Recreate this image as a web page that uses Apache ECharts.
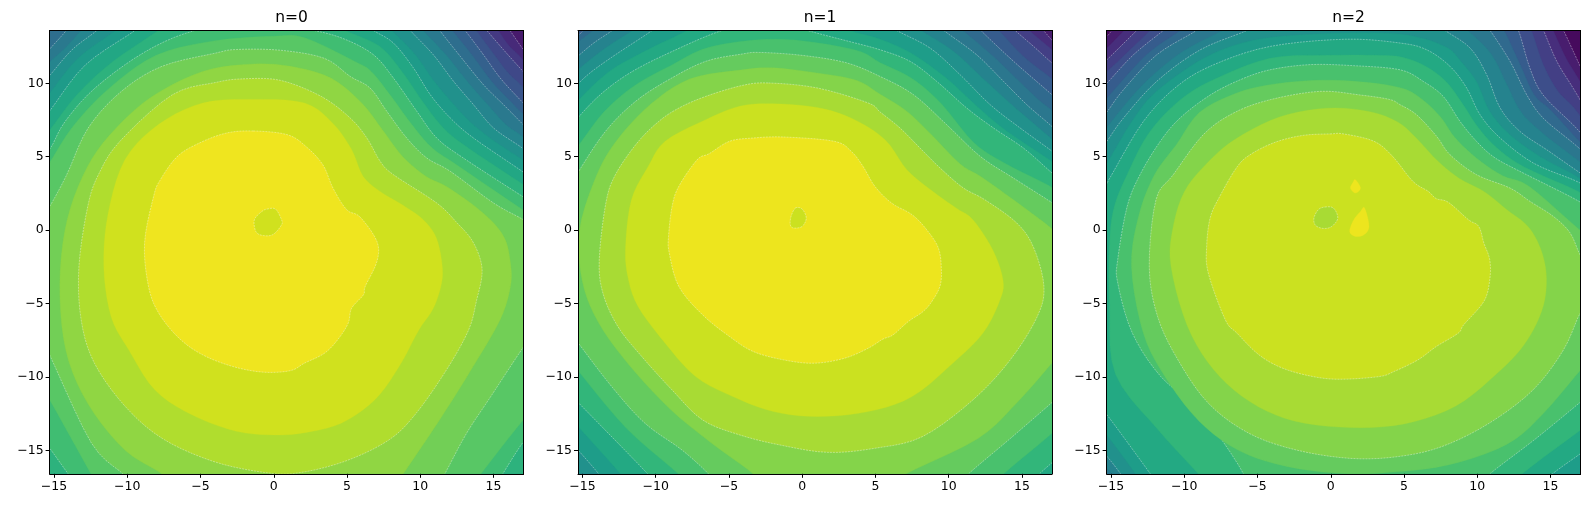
<!DOCTYPE html>
<html>
<head>
<meta charset="utf-8">
<style>html,body{margin:0;background:#fff}#chart{width:1589px;height:508px}</style>
<script src="https://cdn.jsdelivr.net/npm/echarts@6/dist/echarts.min.js"></script>
</head>
<body>
<div id="chart"></div>
<script>
var titles = ["n=0", "n=1", "n=2"];
var xTicks = [-15, -10, -5, 0, 5, 10, 15];
var yTicks = [-15, -10, -5, 0, 5, 10];
var xRange = [-15.3, 17.05];
var yRange = [-16.6, 13.6];

// contour outlines in data units. a point with a
// coordinate of +-40 is a far corner, it only closes the shape outside the plot
var n0Levels = [2, 3, 4, 5, 6, 7, 8, 9, 10, 11, 12, 13, 14, 15, 16, 17, 18, 19, 20, 19];
var n0Contours = [
  [[15.72,14.2],[16.12,13.6],[16.81,12.6],[17.6,11.5],[40,-40],[-40,-40],[-40,40]],
  [[14.93,14.2],[15.33,13.6],[16.02,12.6],[16.81,11.83],[17.6,10.9],[40,-40],[-40,-40],[-40,40]],
  [[14.05,14.2],[14.54,13.6],[15.68,12.28],[16.81,11.03],[17.6,10.2],[40,-40],[-40,-40],[-40,40]],
  [[13.36,14.2],[13.82,13.6],[14.93,12.1],[15.92,10.8],[16.81,9.94],[17.6,9.1],[40,-40],[-40,-40],[-40,40]],
  [[12.57,14.2],[13.06,13.6],[14.31,11.94],[15.46,10.35],[16.81,8.88],[17.6,8.1],[40,-40],[-40,-40],[-40,40]],
  [[11.58,14.2],[12.17,13.6],[13.55,11.9],[14.89,10.1],[16.22,8.7],[16.81,8.1],[17.6,7.4],[40,-40],[-40,-40],[-40,40]],
  [[-15.9,11.6],[-15.23,12.4],[-14.24,13.5],[-13.55,14.4],[0,40],[10.8,14.3],[11.32,13.6],[12.73,11.83],[14.31,9.9],[15.68,8.54],[16.81,7.4],[17.6,6.6],[40,-40],[-40,-40],[-40,9]],
  [[-15.9,10.8],[-15.23,11.5],[-14.14,12.5],[-13.16,13.6],[-12.57,14.3],[0,40],[9.61,14.3],[10.2,13.6],[11.78,11.9],[13.31,10],[14.64,8.5],[15.82,7.2],[16.81,6.5],[17.6,5.9],[40,-40],[-40,-40],[-40,8]],
  [[-15.9,9.8],[-15.23,10.6],[-13.75,12.3],[-12.07,13.6],[-11.38,14.4],[0,40],[8.82,14.3],[9.31,13.6],[10.89,11.94],[12.27,10.13],[13.63,8.54],[15,6.95],[16.81,5.7],[17.6,5.1],[40,-40],[-40,-40],[-40,7]],
  [[-15.9,8.6],[-15.23,9.4],[-13.36,11.7],[-10.79,13.6],[-10.1,14.3],[0,40],[7.54,14.2],[8.06,13.6],[9.61,12],[10.89,10.2],[11.98,8.9],[13.36,7.4],[15.13,6],[16.81,4.9],[17.6,4.3],[40,-40],[-40,-40],[-40,6]],
  [[-15.9,7.4],[-15.23,8.2],[-12.86,11.25],[-9.46,13.6],[-8.72,14.3],[0,40],[6.26,14.2],[6.81,13.6],[8.17,12.74],[9.54,11.03],[10.68,9.22],[12.05,7.63],[13.63,6.27],[16.81,4.1],[17.6,3.5],[40,-40],[-40,-40],[-40,5]],
  [[-15.9,6.2],[-15.23,6.9],[-13.45,9.2],[-11.09,11.4],[-7.88,13.6],[-7.15,14.2],[0,40],[4.19,14.1],[4.88,13.6],[7.25,12.5],[8.82,10.7],[10.2,8.7],[11.58,6.95],[13.26,5.6],[16.81,3.25],[17.6,2.7],[40,-40],[-40,-40],[-40,4]],
  [[-15.9,5],[-15.23,5.6],[-14.24,7.4],[-12.17,9.7],[-8.77,12.15],[-5.37,13.6],[-1,14.3],[2.75,13.6],[4.85,13],[6.81,11.94],[8.17,10.35],[9.77,8.08],[11.13,6.26],[12.95,4.9],[16.81,2.4],[17.6,1.9],[40,-6],[18,-13.5],[17.05,-14.4],[15.6,-16.65],[15.2,-17.4],[0,-40],[-13.4,-17.4],[-14,-16.65],[-15.3,-14.85],[-16,-14],[-40,0]],
  [[-15.9,4],[-15.3,4.6],[-13.75,7],[-11.3,9.6],[-8.03,11.9],[-3.99,12.9],[0,13.2],[2.1,13.1],[5.5,11.5],[6.65,10.8],[7.94,9.2],[9.41,7.2],[10.8,5.6],[12.47,4.45],[16.81,1.5],[17.6,1],[40,-6],[18,-12],[17.05,-12.9],[14.1,-16.65],[13.7,-17.4],[0,-40],[-12,-17.4],[-12.45,-16.65],[-15.3,-11.55],[-16,-10.5],[-40,0]],
  [[-15.9,0.8],[-15.3,1.6],[-14.14,3.75],[-12.67,6.95],[-10.4,9.45],[-7.64,11.15],[-3.99,12.05],[-2.55,12.3],[0.45,12.25],[3.45,11.7],[5.22,10.46],[6.58,9.67],[7.72,8.08],[9.08,6.26],[10.45,4.9],[12.05,4],[15,1.84],[17.05,0.7],[18,0],[40,-3],[18,-6.8],[17.05,-7.95],[14.8,-11.35],[13.15,-13.85],[11.65,-16.65],[11.2,-17.4],[0,-40],[-9.8,-17.4],[-10.25,-16.65],[-12.45,-14.5],[-15.3,-8.5],[-16,-7.2],[-40,-3]],
  [[-8.1,-17.4],[-7.6,-16.65],[-10.15,-15],[-12.7,-11.8],[-14.2,-8.15],[-14.6,-3.6],[-14.1,0.7],[-12.7,4.35],[-10.85,6.85],[-8.3,9.1],[-4.85,10.8],[-1.6,11.3],[1.15,11.15],[3.9,10.35],[6,8.65],[7.4,6.85],[8.8,5],[10.4,3.65],[11.9,2.9],[14.3,1.15],[15.7,-0.45],[16.15,-2.25],[16.15,-3.85],[15.45,-6.1],[13.6,-9.3],[11.3,-12.95],[8.8,-16.65],[8.3,-17.4],[0,-40]],
  [[-2.1,10.3],[0.45,10.2],[3.25,9.1],[5.22,7.63],[6.36,6.26],[7.27,4.67],[8.17,3.77],[11.13,1.84],[12.5,0.5],[13.5,-0.65],[14.1,-2],[14.2,-3.15],[13.85,-4.75],[13.3,-6.8],[11.8,-9.5],[9.7,-12.5],[7.85,-14.3],[4.85,-15.75],[1.6,-16.55],[-0.7,-16.5],[-4.15,-15.75],[-7.6,-14.2],[-10.15,-12],[-12.25,-9.05],[-13.15,-6.1],[-13.3,-2.5],[-12.7,1.6],[-11.98,3.75],[-10.5,6.05],[-6.95,9.2],[-3.99,10.05]],
  [[-1.4,8.9],[2.1,8.65],[4,7.3],[5.3,5.5],[6.1,3.65],[7.3,2.6],[8.8,1.7],[10.2,0.7],[11.1,-0.55],[11.5,-2.5],[11.4,-3.85],[10.85,-5.4],[9.9,-6.8],[8.55,-9.3],[6.9,-11.55],[4.6,-13.15],[2.1,-13.8],[0,-13.95],[-2.55,-13.7],[-5.55,-12.6],[-8.1,-10.9],[-9.9,-8.15],[-11.1,-5.9],[-11.6,-2.5],[-11.3,1.15],[-10.15,4.8],[-7.85,7.2],[-4.85,8.65]],
  [[-1.39,6.75],[0.92,6.5],[2.19,5.7],[3.35,4.45],[4.04,2.86],[4.97,1.39],[5.89,0.89],[7.04,-0.77],[7.04,-2.14],[6.24,-3.84],[6.12,-4.41],[5.31,-5.32],[5.08,-6.34],[4.39,-7.43],[3.46,-8.39],[2.08,-9.07],[1.15,-9.57],[-0.69,-9.68],[-2.77,-9.3],[-4.85,-8.5],[-6.47,-7.36],[-7.85,-5.66],[-8.55,-3.84],[-8.82,-0.89],[-8.2,2.3],[-7.74,3.43],[-6.58,5.02],[-5.08,5.93],[-3.23,6.61]],
  [[-0.46,1.43],[0.12,1.43],[0.53,0.7],[0.53,0.36],[0,-0.27],[-0.58,-0.39],[-1.15,-0.2],[-1.34,0.36],[-1.27,0.82],[-0.81,1.27]]
];

var n1Levels = [2, 3, 4, 5, 6, 7, 8, 9, 10, 11, 12, 13, 14, 15, 16, 17, 18, 17];
var n1Contours = [
  [[16.01,14.2],[16.47,13.6],[16.99,13],[17.6,12.3],[40,-40],[-40,-40],[-40,40]],
  [[15.12,14.2],[15.51,13.6],[16.92,12.4],[17.6,11.8],[40,-40],[-40,-40],[-40,40]],
  [[13.94,14.2],[14.53,13.6],[15.79,12.51],[16.92,11.49],[17.6,10.9],[40,-40],[-40,-40],[-40,40]],
  [[12.85,14.2],[13.44,13.6],[15.02,11.9],[16.92,10.4],[17.6,9.8],[40,-40],[-40,-40],[-40,40]],
  [[-16,12.9],[-15.32,13.25],[-14.95,13.6],[-14.55,14.2],[0,40],[11.67,14.2],[12.26,13.53],[14.43,11.49],[16.92,9.33],[17.6,8.7],[40,-40],[-40,-40],[-40,5]],
  [[-16,12.2],[-15.32,12.8],[-14.26,13.6],[-13.67,14.2],[0,40],[10.39,14.2],[10.98,13.6],[12.85,12],[14.53,10.4],[16.1,8.9],[16.92,8.25],[17.6,7.6],[40,-40],[-40,-40],[-40,5]],
  [[-16,11.2],[-15.32,11.83],[-14.23,12.74],[-12.97,13.6],[-12.28,14.3],[0,40],[9.1,14.2],[9.76,13.53],[11.91,11.94],[13.74,10.13],[15.33,8.54],[16.92,7.17],[17.6,6.5],[40,-40],[-40,-40],[-40,5]],
  [[-16,10.2],[-15.32,10.9],[-13.57,12.3],[-11.6,13.6],[-10.9,14.3],[0,40],[7.43,14.2],[8.12,13.6],[10.29,12.2],[12.26,10.4],[14.23,8.6],[16.1,7],[16.92,6.3],[17.6,5.7],[40,-40],[-40,-40],[-40,5]],
  [[-16,9.2],[-15.32,9.94],[-14.36,10.8],[-12.75,11.94],[-10.24,13.6],[-9.52,14.3],[0,40],[5.85,14.2],[6.45,13.6],[8.73,12.4],[10.78,10.58],[12.83,8.54],[14.88,6.95],[16.92,5.47],[17.6,4.9],[40,-40],[-12,-40],[-13.4,-17.4],[-13.85,-16.65],[-15.28,-15],[-16,-14.2],[-40,0]],
  [[-16,8],[-15.32,8.8],[-13.17,10.8],[-10.51,12.3],[-7.85,13.6],[-7.16,14.3],[0,40],[2.7,14.3],[3.3,13.6],[5.32,13],[7.53,12],[9.89,10.3],[11.96,8.4],[13.94,6.75],[16.92,4.75],[17.6,4.1],[40,-40],[-10,-40],[-11.8,-17.4],[-12.35,-16.65],[-15.28,-13.4],[-16,-12.7],[-40,0]],
  [[-16,6.6],[-15.32,7.63],[-13.66,9.33],[-11.6,10.8],[-8.87,12.17],[-5.46,13.6],[-2,14.4],[0.35,13.6],[3,12.9],[5.32,12.28],[7.37,11.49],[9.18,10.13],[11.23,8.31],[13.06,6.95],[15.11,5.58],[16.92,4],[17.6,3.4],[40,-8],[18,-15],[17.1,-15.8],[16.15,-16.65],[15.6,-17.4],[0,-40],[-10,-17.4],[-10.5,-16.65],[-15.33,-11.7],[-16,-11],[-40,0]],
  [[-16,5],[-15.32,5.7],[-13.57,8],[-11.5,9.8],[-8.98,11.2],[-6.17,12.5],[-1.5,13],[3.5,12.3],[5.32,11.4],[7.53,10.3],[9.5,8.6],[11.67,6],[13.74,4.6],[16.89,3],[17.6,2.4],[40,-8],[18,-12.8],[17.1,-13.8],[13.7,-16.65],[13.3,-17.4],[0,-40],[-7.9,-17.4],[-8.4,-16.65],[-12,-13.5],[-15.28,-9.6],[-16,-8.7],[-40,0]],
  [[-16,2.7],[-15.32,3.9],[-13.43,6.72],[-11.38,8.76],[-9.11,10.24],[-6.6,11.49],[-4.1,11.99],[-2.9,12.1],[0,11.9],[3,11.4],[5.32,10.46],[7.6,9.22],[9.87,7.17],[12.15,5.02],[14.42,3.54],[16.92,1.95],[17.6,1.4],[40,-8],[18,-10.9],[17.1,-11.7],[14.2,-14.2],[11.3,-16.65],[10.8,-17.4],[0,-40],[-5.9,-17.4],[-6.35,-16.65],[-8.2,-14.98],[-10.73,-13.16],[-13,-10.66],[-15.28,-7.7],[-16,-6.8],[-40,0]],
  [[-3.2,-17.4],[-3.3,-16.65],[-6.2,-14.5],[-9,-12.2],[-11.8,-9.2],[-13.9,-6.3],[-15,-3.5],[-15.2,0],[-14,3.8],[-12.58,6.2],[-10.31,8.6],[-7.65,10.3],[-4.2,10.9],[-2,11.05],[1,10.7],[3.7,10.2],[5.32,9.25],[7.13,8.1],[8.91,6.4],[10.78,4.5],[12.26,3.6],[14.23,2.2],[16,0.9],[16.79,0.3],[18,-0.7],[40,-5],[18,-8.1],[17.1,-9],[14.8,-11.6],[12,-14.2],[7,-16.65],[6.5,-17.4],[0,-40]],
  [[-2.3,10.02],[1.04,9.68],[4.5,8.66],[5.32,8.04],[6.68,6.95],[8.05,5.58],[9.42,4.22],[11.01,2.86],[12.46,2.07],[14.65,0.48],[15.8,-1.2],[16.5,-3.84],[16.04,-5.9],[14.2,-8.84],[11.65,-11.57],[8.2,-14.07],[4.96,-14.86],[1.73,-15.14],[-1.5,-14.64],[-4.27,-13.95],[-6.8,-12.93],[-8.88,-10.89],[-10.96,-8.6],[-12.58,-6.57],[-13.6,-4.3],[-13.85,-2.02],[-13.4,1.84],[-12.75,3.77],[-11.27,5.93],[-9.79,7.4],[-8.42,8.31],[-6.6,9.1],[-4.1,9.85]],
  [[-2,8.6],[1,8.35],[3.4,7.6],[5.65,6.16],[7.15,4.1],[8.9,2.64],[10.5,1.5],[11.65,0.7],[13,-1.34],[13.7,-3.39],[13.5,-4.75],[12.35,-7],[10.27,-9.07],[7.5,-11.34],[4.5,-12.36],[1.04,-12.7],[-1.96,-12.36],[-4.73,-11.34],[-7.27,-9.98],[-9.35,-7.7],[-11.2,-5.2],[-11.9,-3.16],[-12.05,-1.1],[-11.65,2.07],[-10.5,4.34],[-9.35,6.05],[-6.58,7.52],[-4.27,8.43]],
  [[-1.27,6.34],[2.19,6.05],[3.35,5.36],[4.15,4.34],[4.96,2.98],[6.1,1.84],[7.5,1.05],[8.5,0.02],[9.3,-1.23],[9.5,-2.7],[9.4,-3.84],[8.85,-4.86],[8.25,-5.55],[7.24,-6.23],[6.2,-7.14],[5.5,-7.43],[4.5,-8.05],[2.89,-8.73],[0.81,-9.07],[-1.27,-8.84],[-3.35,-8.27],[-4.96,-7.25],[-6.8,-5.77],[-8.42,-3.84],[-9.07,-1.57],[-9.12,-0.43],[-8.88,1.61],[-8.42,2.98],[-7.16,4.8],[-6.35,5.2],[-4.96,6.05],[-3.35,6.27]],
  [[-0.46,1.5],[0,1.43],[0.28,0.82],[0,0.25],[-0.58,0.14],[-0.81,0.36],[-0.76,0.93]]
];

var n2Levels = [1, 2, 3, 4, 5, 6, 7, 8, 9, 10, 11, 12, 13, 14, 15, 16, 17, 16, 18, 18];
var n2Contours = [
  [[-16,12.6],[-15.28,13.19],[-14.95,13.6],[-14.49,14.2],[0,40],[15.47,14.2],[15.88,13.6],[16.54,12.2],[17.05,11.1],[17.6,10],[40,-40],[-40,-40],[-40,5]],
  [[-16,11.8],[-15.28,12.4],[-14.1,13.6],[-13.51,14.2],[2,40],[14.88,14.2],[15.18,13.6],[15.96,11.9],[16.54,10.9],[17.6,9.2],[40,-40],[-40,-40],[-40,5]],
  [[-16,11],[-15.28,11.6],[-13.24,13.6],[-12.62,14.2],[2,40],[14.19,14.2],[14.52,13.6],[15.42,11.5],[16.54,9.67],[17.6,7.9],[40,-40],[-40,-40],[-40,5]],
  [[-16,10.1],[-15.28,10.8],[-14.3,11.7],[-12.33,13.6],[-11.73,14.2],[2,40],[13.3,14.2],[13.7,13.6],[14.49,11.3],[15.47,9.5],[16.54,8.4],[17.6,7],[40,-40],[-40,-40],[-40,5]],
  [[-16,9.3],[-15.28,10],[-13.47,11.94],[-11.42,13.6],[-10.75,14.2],[2,40],[12.32,14.2],[12.81,13.6],[13.6,11],[14.49,9.2],[16.54,7.17],[17.6,6],[40,-40],[-40,-40],[-40,5]],
  [[-16,8.3],[-15.28,9],[-12.62,11.9],[-10.26,13.6],[-9.57,14.2],[2,40],[11.23,14.2],[11.82,13.6],[12.91,11.3],[13.89,9.2],[14.98,8.2],[16.54,6.5],[17.6,5.4],[40,-40],[-40,-40],[-40,5]],
  [[-16,7.2],[-15.28,8.04],[-14.15,9.56],[-11.88,11.94],[-9.15,13.6],[-8.48,14.2],[2,40],[10.35,14.2],[10.87,13.6],[12.24,11.49],[13.37,9.22],[14.49,7.63],[16.54,5.93],[17.6,5],[40,-40],[-40,-40],[-40,0]],
  [[-16,6.2],[-15.28,7],[-13.02,9.7],[-10.35,12],[-7.4,13.6],[-6.71,14.2],[2,40],[8.77,14.2],[9.36,13.6],[10.94,12],[12.02,9.9],[13.01,8],[14.58,6.5],[16.54,5],[17.6,4.2],[40,-40],[-14,-40],[-15,-17.4],[-15,-16.65],[-15.3,-16.2],[-16,-15.6],[-40,0]],
  [[-16,5],[-15.28,6.04],[-14.15,7.63],[-11.88,10.13],[-8.91,12.28],[-5.72,13.6],[-5.03,14.2],[2,40],[7.19,14.2],[7.8,13.6],[9.51,12.4],[10.64,10.58],[11.56,8.31],[12.91,6.72],[14.74,5.47],[16.54,4.22],[17.6,3.5],[40,-40],[-14,-40],[-13.9,-17.4],[-14.31,-16.65],[-15.26,-15.43],[-16,-14.7],[-40,0]],
  [[-16,3.8],[-15.26,4.6],[-13.51,7.5],[-11.83,9.5],[-8.48,11.8],[-4.93,13],[0,13.4],[4,13.4],[6.11,13.1],[7.98,12.4],[8.87,11.5],[9.95,10.1],[10.84,8.1],[12.22,6.5],[14.29,5],[16.54,3.8],[17.6,3.1],[40,-40],[-13,-40],[-12.9,-17.4],[-13.3,-16.65],[-15.26,-14],[-16,-13.3],[-40,0]],
  [[-16,1.6],[-15.26,3.2],[-14.95,3.77],[-12.79,7.4],[-10.51,9.78],[-8,11.26],[-4.14,12.51],[1,13],[4.73,12.74],[6.55,12.28],[8.14,11.15],[9.28,9.67],[10.19,7.85],[11.56,6.27],[13.83,4.56],[16.54,3.43],[17.6,2.9],[40,-10],[18,-14.5],[17.08,-15.2],[15.07,-16.65],[14.5,-17.4],[0,-40],[-11.8,-17.4],[-12.28,-16.65],[-15.26,-12.6],[-16,-11.8],[-40,-5]],
  [[-8.6,-17.4],[-9,-16.65],[-11.7,-13.7],[-14.7,-9.8],[-15.1,-5],[-15.1,-1],[-14.8,1.5],[-13.9,3.77],[-12.42,6.6],[-10.35,8.8],[-8.09,10.2],[-4.14,11.7],[0,11.9],[3,11.9],[4.73,11.8],[6.4,11.2],[7.88,10.1],[9.06,8.5],[10.05,7],[11.33,5.6],[13.2,4.3],[16.54,2.8],[17.6,2.2],[40,-8],[18,-13],[17.08,-13.6],[13,-16.65],[12.6,-17.4],[0,-40]],
  [[-6.3,-17.4],[-5.93,-16.65],[-8.8,-12.48],[-11.6,-9.98],[-13.55,-7],[-14.54,-3.6],[-14.54,-2],[-13.9,1.6],[-13.02,3.77],[-11.64,6.04],[-10.29,7.63],[-8.23,9.2],[-6.18,10.24],[-4.14,10.92],[-1.4,11.27],[1.5,11.2],[4.73,10.92],[6.32,10.12],[7.68,9.1],[8.82,7.4],[9.95,6.04],[11.09,5],[12.69,4.11],[16.54,2.18],[17.6,1.5],[40,-5],[18,-10.9],[17.08,-11.68],[14,-14.2],[10.8,-16.65],[10.3,-17.4],[0,-40]],
  [[-13.6,-2.5],[-13.1,1],[-12.03,3.77],[-10.55,5.8],[-8.97,8],[-6.51,9.3],[-4.14,9.9],[-1,10.2],[2,10.1],[4.73,9.7],[6.11,9],[7.49,7.7],[8.47,6.3],[9.95,4.9],[11.73,3.7],[13.5,3],[16.54,0.4],[17.6,-0.5],[40,-5],[18,-8.8],[17.08,-9.5],[14.5,-12.5],[12,-14.6],[8,-16],[4,-16.5],[1,-16.6],[-3,-16.1],[-6.3,-15],[-9,-13],[-11.3,-10],[-12.8,-7]],
  [[-12.39,-2.48],[-11.93,2.07],[-10.75,3.77],[-8.71,6.49],[-6.64,7.97],[-4.14,8.88],[-0.74,9.45],[2,9.2],[4,8.9],[4.73,8.54],[5.86,7.85],[7.23,6.38],[8.14,5.13],[9.95,3.77],[12.24,2.86],[13.6,1.95],[15.19,0.93],[16.34,-0.2],[17.08,-1.8],[18,-2.8],[40,-4],[18,-4.8],[17.08,-5.55],[15.88,-8.16],[13.8,-10.89],[10.8,-13.16],[7.57,-14.75],[4.57,-15.43],[1.34,-15.55],[-2.35,-14.98],[-5.59,-13.84],[-8.35,-11.8],[-10.43,-8.84],[-11.82,-5.89]],
  [[-0.3,8.3],[2.5,8.1],[4.5,7.4],[5.8,6.3],[7.3,4.7],[8.8,3.5],[10.5,2.6],[12,1.4],[13.5,0.2],[14.4,-1.5],[14.72,-3.4],[14.4,-5.5],[13.2,-7.8],[11.3,-9.8],[8.5,-12],[5,-13.2],[1.34,-13.45],[-2.5,-13],[-5.5,-11.7],[-8,-9.5],[-9.8,-6.5],[-10.9,-2.5],[-10.8,0],[-10,2.6],[-8.4,4.6],[-6.5,6.2],[-3.5,7.7]],
  [[-0.05,6.55],[0.88,6.55],[2.95,6.05],[4.22,5.02],[5.6,3.32],[6.65,2.64],[7.2,2.14],[8.03,1.89],[9.4,0.7],[10.1,0.25],[10.45,-0.89],[10.85,-2.02],[10.85,-3.39],[10.45,-4.86],[9.07,-6.45],[8.7,-7.02],[7.2,-7.93],[5.95,-8.84],[4.3,-9.64],[3.28,-9.98],[0.65,-10.16],[-1.2,-9.98],[-3.28,-9.41],[-4.9,-8.5],[-6.4,-7.02],[-7.2,-6.11],[-8.36,-2.93],[-8.47,-1.11],[-8.24,0.8],[-7.66,2.14],[-6.4,4.3],[-5.4,5.2],[-3.75,6],[-1.9,6.45]],
  [[-0.4,1.57],[0.18,1.5],[0.48,0.82],[0.07,0.25],[-0.5,0.11],[-1.04,0.32],[-1.15,0.82],[-0.85,1.39]],
  [[1.68,3.43],[2.03,2.86],[1.68,2.52],[1.34,2.86],[1.52,3.25]],
  [[2.31,1.5],[2.61,0.25],[2.26,-0.32],[1.68,-0.43],[1.29,-0.09],[1.57,0.7],[2.03,1.27]]
];

var viridis = ["#440154","#471365","#482475","#463480","#414487","#3b528b","#355f8d","#2f6c8e","#2a788e","#25848e","#21918c","#1e9c89","#22a884","#2fb47c","#44bf70","#5ec962","#7ad151","#9bd93c","#bddf26","#dfe318","#fde725"];

var panels = [
  { left: 49.6, bands: 21, base: 1, linedParity: 0, levels: n0Levels, contours: n0Contours },
  { left: 578, bands: 19, base: 1, linedParity: 0, levels: n1Levels, contours: n1Contours },
  { left: 1106.6, bands: 19, base: 0, linedParity: 1, levels: n2Levels, contours: n2Contours },
];
var panelWidth = 474;

function isFar(p) {
  return Math.abs(p[0]) >= 40 || Math.abs(p[1]) >= 40;
}

// catmull-rom through the read points, far corners stay sharp
function smoothRun(pts, closed) {
  var out = [];
  var n = pts.length;
  var last = closed ? n : n - 1;
  function at(i) {
    if (closed) return pts[(i + n) % n];
    return pts[Math.max(0, Math.min(n - 1, i))];
  }
  for (var i = 0; i < last; i++) {
    var p0 = at(i - 1), p1 = at(i), p2 = at(i + 1), p3 = at(i + 2);
    for (var s = 0; s < 5; s++) {
      var t = s / 5, t2 = t * t, t3 = t2 * t;
      out.push([
        0.5 * (2 * p1[0] + (p2[0] - p0[0]) * t + (2 * p0[0] - 5 * p1[0] + 4 * p2[0] - p3[0]) * t2 + (3 * p1[0] - p0[0] - 3 * p2[0] + p3[0]) * t3),
        0.5 * (2 * p1[1] + (p2[1] - p0[1]) * t + (2 * p0[1] - 5 * p1[1] + 4 * p2[1] - p3[1]) * t2 + (3 * p1[1] - p0[1] - 3 * p2[1] + p3[1]) * t3),
      ]);
    }
  }
  if (!closed) out.push(pts[n - 1]);
  return out;
}

function outline(contour) {
  if (!contour.some(isFar)) return smoothRun(contour, true);
  var out = [];
  var run = [];
  var start = contour.findIndex(isFar);
  for (var i = 1; i <= contour.length; i++) {
    var p = contour[(start + i) % contour.length];
    if (isFar(p)) {
      if (run.length) out = out.concat(smoothRun(run, false));
      run = [];
      out.push(p);
    } else {
      run.push(p);
    }
  }
  return out;
}

function bandColor(panel, band) {
  return echarts.color.lerp((band + 0.5) / panel.bands, viridis);
}

var grid = [], xAxis = [], yAxis = [], series = [], title = [];

function signed(v) {
  return String(v).replace("-", "\u2212");
}

panels.forEach(function (panel, i) {
  grid.push({ left: panel.left, width: panelWidth, top: 30.4, height: 443.4 });
  title.push({
    text: titles[i],
    left: panel.left + panelWidth / 2,
    top: 5,
    textAlign: "center",
    textStyle: { fontFamily: "DejaVu Sans", fontSize: 15.5, fontWeight: "normal", color: "#000" },
  });
  xAxis.push({
    type: "value", gridIndex: i, min: xRange[0], max: xRange[1], position: "bottom",
    splitLine: { show: false },
    axisLine: { show: true, onZero: false, lineStyle: { color: "#000", width: 1 } },
    axisTick: { show: true, length: 4, customValues: xTicks, lineStyle: { color: "#000", width: 1 } },
    axisLabel: { show: true, customValues: xTicks, formatter: signed, margin: 6, fontFamily: "DejaVu Sans", fontSize: 12.5, color: "#000" },
    z: 10,
  });
  xAxis.push({
    type: "value", gridIndex: i, min: xRange[0], max: xRange[1], position: "top",
    splitLine: { show: false }, axisTick: { show: false }, axisLabel: { show: false },
    axisLine: { show: true, onZero: false, lineStyle: { color: "#000", width: 1 } },
    z: 10,
  });
  yAxis.push({
    type: "value", gridIndex: i, min: yRange[0], max: yRange[1], position: "left",
    splitLine: { show: false },
    axisLine: { show: true, onZero: false, lineStyle: { color: "#000", width: 1 } },
    axisTick: { show: true, length: 4, customValues: yTicks, lineStyle: { color: "#000", width: 1 } },
    axisLabel: { show: true, customValues: yTicks, formatter: signed, margin: 6, fontFamily: "DejaVu Sans", fontSize: 12.5, color: "#000" },
    z: 10,
  });
  yAxis.push({
    type: "value", gridIndex: i, min: yRange[0], max: yRange[1], position: "right",
    splitLine: { show: false }, axisTick: { show: false }, axisLabel: { show: false },
    axisLine: { show: true, onZero: false, lineStyle: { color: "#000", width: 1 } },
    z: 10,
  });

  series.push({
    type: "custom",
    xAxisIndex: i * 2,
    yAxisIndex: i * 2,
    coordinateSystem: "cartesian2d",
    clip: true,
    silent: true,
    animation: false,
    data: [[-1]].concat(panel.contours.map(function (c, j) { return [j]; })),
    encode: { x: [], y: [] },
    renderItem: function (params, api) {
      var j = params.dataIndex - 1;
      if (j < 0) {
        // lowest band, everything outside the first contour
        return {
          type: "polygon",
          shape: { points: [[-40, 40], [40, 40], [40, -40], [-40, -40]].map(function (p) { return api.coord(p); }) },
          style: { fill: bandColor(panel, panel.base), stroke: null },
        };
      }
      var level = panel.levels[j];
      // a hole falls back to the band below and keeps its line
      var hole = j > 0 && level < panel.levels[j - 1];
      var lined = hole || level % 2 === panel.linedParity;
      return {
        type: "polygon",
        shape: { points: outline(panel.contours[j]).map(function (p) { return api.coord(p); }) },
        style: {
          fill: bandColor(panel, level),
          stroke: lined ? "rgba(255,255,255,0.6)" : bandColor(panel, level),
          lineWidth: lined ? 0.6 : 0.3,
          lineDash: lined ? [2, 1] : null,
        },
      };
    },
  });
});

var chart = echarts.init(document.getElementById("chart"));
chart.setOption({
  animation: false,
  backgroundColor: "#fff",
  title: title,
  grid: grid,
  xAxis: xAxis,
  yAxis: yAxis,
  series: series,
});
</script>
</body>
</html>
